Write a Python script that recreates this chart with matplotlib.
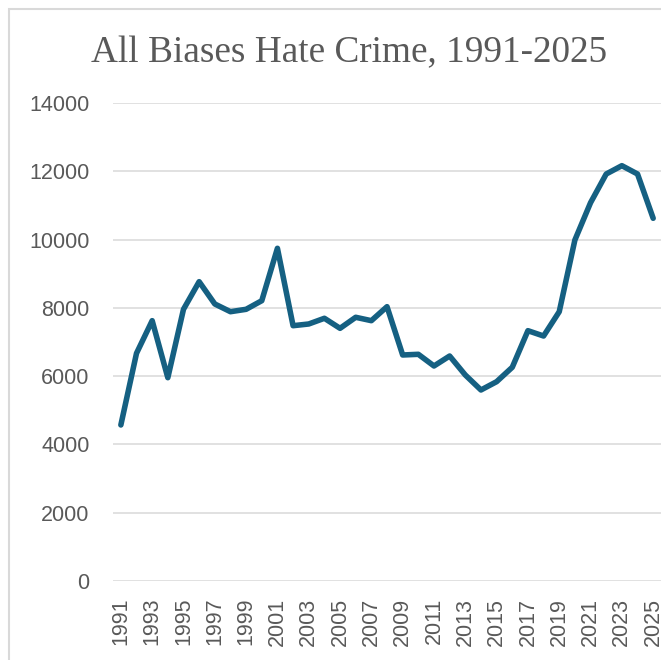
"""
Line chart of all-bias hate crime counts, 1991-2025.
"""
import matplotlib
matplotlib.use('Agg')
import matplotlib.pyplot as plt

years = list(range(1991, 2026))
incidents = [4570, 6670, 7625, 5955, 7958, 8767, 8114, 7888, 7958, 8210,
             9745, 7478, 7528, 7695, 7401, 7724, 7625, 8035, 6620, 6640,
             6298, 6590, 6034, 5595, 5838, 6260, 7332, 7176, 7888, 9988,
             11080, 11921, 12165, 11921, 10624]
y_ticks = [0, 2000, 4000, 6000, 8000, 10000, 12000, 14000]
x_ticks = years[::2]

grey = '#595959'

fig = plt.figure(figsize=(6.61, 6.60), dpi=100)
ax = fig.add_axes([0.171, 0.1197, 0.829, 0.7242])

ax.plot(years, incidents, color='#156082', linewidth=4.0,
        solid_joinstyle='round', solid_capstyle='round', zorder=3)

ax.set_xlim(1990.5, 2025.5)
ax.set_ylim(0, 14000)
ax.set_yticks(y_ticks)
ax.set_yticklabels([str(v) for v in y_ticks])
ax.set_xticks(x_ticks)
ax.set_xticklabels([str(v) for v in x_ticks], rotation=90)

ax.grid(axis='y', color='#d9d9d9', linewidth=1.1)
ax.set_axisbelow(True)
for s in ax.spines.values():
    s.set_visible(False)
ax.tick_params(axis='y', length=0, pad=17, labelsize=15.5, labelcolor=grey)
ax.tick_params(axis='x', length=0, pad=12, labelsize=15.5, labelcolor=grey)
for lab in ax.get_xticklabels() + ax.get_yticklabels():
    lab.set_fontfamily('Liberation Sans')

fig.text(349 / 661, 1 - 62 / 660, 'All Biases Hate Crime, 1991-2025',
         ha='center', va='baseline', fontsize=26.8, color=grey,
         fontfamily='Liberation Serif')

# light frame around the chart area (cropped at right and bottom)
frame = plt.Rectangle((9 / 661, -0.05), 1.2, 1 - 9 / 660 + 0.05,
                      transform=fig.transFigure, fill=False,
                      edgecolor='#d9d9d9', linewidth=1.5, clip_on=False)
fig.patches.append(frame)

fig.savefig('out.png', dpi=100)
